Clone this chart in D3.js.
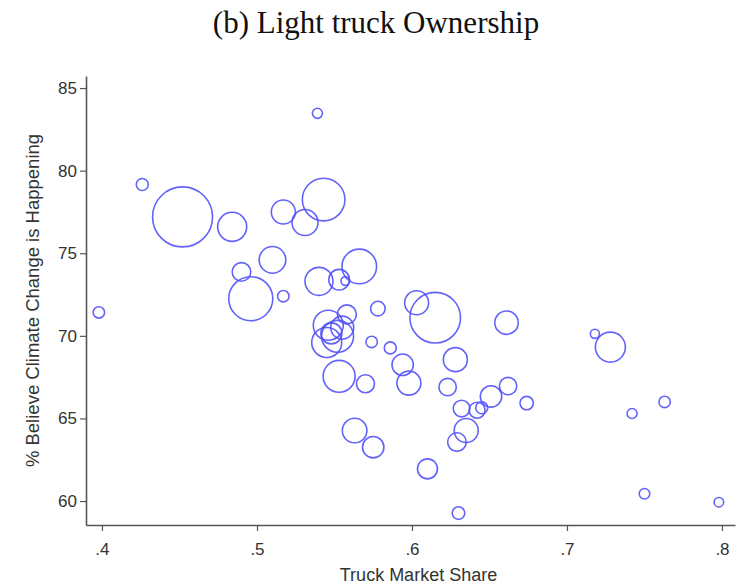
<!DOCTYPE html>
<html>
<head>
<meta charset="utf-8">
<script src="https://cdn.jsdelivr.net/npm/d3@7"></script>
<style>
  html, body { margin: 0; padding: 0; background: #fff; }
  svg { display: block; }
</style>
</head>
<body>
<svg id="chart" width="741" height="587"></svg>
<script>
// Truck market share (x), % believing climate change is happening (y),
// and population weight per state (bubble area).
const truckShare = [
  0.539, 0.426, 0.452, 0.484, 0.517, 0.543, 0.531, 0.510, 0.490, 0.496,
  0.517, 0.398, 0.540, 0.553, 0.557, 0.566, 0.578, 0.603, 0.615, 0.661,
  0.718, 0.728, 0.546, 0.558, 0.555, 0.552, 0.545, 0.548, 0.574, 0.586,
  0.594, 0.598, 0.553, 0.570, 0.628, 0.623, 0.632, 0.642, 0.645, 0.651,
  0.662, 0.674, 0.635, 0.629, 0.563, 0.575, 0.610, 0.630, 0.742, 0.763,
  0.750, 0.798
];
const believePct = [
  83.47, 79.16, 77.20, 76.60, 77.50, 78.25, 76.86, 74.60, 73.87, 72.25,
  72.40, 71.42, 73.30, 73.40, 73.32, 74.20, 71.65, 72.00, 71.10, 70.80,
  70.12, 69.32, 70.64, 71.30, 70.50, 69.97, 69.60, 70.15, 69.63, 69.27,
  68.25, 67.14, 67.55, 67.10, 68.56, 66.90, 65.60, 65.50, 65.65, 66.33,
  66.96, 65.93, 64.27, 63.57, 64.27, 63.26, 61.95, 59.27, 65.30, 66.00,
  60.44, 59.93
];
const popWeight = [
  2.8, 4.0, 100, 23.4, 16.0, 50.4, 18.8, 19.7, 9.6, 53.8,
  3.6, 3.6, 21.8, 11.8, 2.1, 33.3, 5.9, 16.0, 71.1, 15.2,
  2.3, 25.0, 25.0, 10.0, 14.7, 28.4, 25.0, 12.3, 3.6, 4.0,
  12.7, 16.0, 28.4, 9.0, 16.0, 8.4, 7.7, 7.1, 4.0, 12.7,
  8.4, 5.0, 16.0, 9.6, 16.8, 12.7, 11.1, 4.4, 2.8, 3.6,
  3.1, 2.5
];

const xTicks = [0.4, 0.5, 0.6, 0.7, 0.8];
const yTicks = [60, 65, 70, 75, 80, 85];

const titleText = "(b) Light truck Ownership";
const xLabel = "Truck Market Share";
const yLabel = "% Believe Climate Change is Happening";

const data = truckShare.map((x, i) => ({ x, y: believePct[i], w: popWeight[i] }));

const svg = d3.select("#chart");
const plot = { left: 86, right: 735, top: 76, bottom: 525 };

const x = d3.scaleLinear().domain([0.3897, 0.8084]).range([plot.left, plot.right]);
const y = d3.scaleLinear().domain([58.55, 85.73]).range([plot.bottom, plot.top]);
const r = d3.scaleSqrt().domain([0, 100]).range([0, 30]);

const axisColor = "#555";
const labelColor = "#333";
const sansFont = "'Liberation Sans', Arial, sans-serif";

// Title
svg.append("text")
  .attr("x", 376).attr("y", 33)
  .attr("text-anchor", "middle")
  .attr("font-family", "'Liberation Serif', 'Times New Roman', serif")
  .attr("font-size", 31)
  .attr("fill", "#111")
  .text(titleText);

// Bubbles
svg.append("g")
  .selectAll("circle")
  .data(data)
  .join("circle")
  .attr("cx", d => x(d.x))
  .attr("cy", d => y(d.y))
  .attr("r", d => r(d.w))
  .attr("fill", "none")
  .attr("stroke", "#5252fa")
  .attr("stroke-opacity", 0.9)
  .attr("stroke-width", 1.6);

// Axes
const xAxis = svg.append("g")
  .attr("transform", `translate(0,${plot.bottom})`)
  .call(d3.axisBottom(x).tickValues(xTicks).tickSize(6).tickSizeOuter(0)
    .tickFormat(d => d3.format(".1f")(d).replace(/^0/, "")));
const yAxis = svg.append("g")
  .attr("transform", `translate(${plot.left},0)`)
  .call(d3.axisLeft(y).tickValues(yTicks).tickSize(6).tickSizeOuter(0));

[xAxis, yAxis].forEach(g => {
  g.select(".domain").attr("stroke", axisColor).attr("stroke-width", 1.6);
  g.selectAll(".tick line").attr("stroke", axisColor).attr("stroke-width", 1.2);
  g.selectAll(".tick text")
    .attr("font-family", sansFont)
    .attr("font-size", 17)
    .attr("fill", labelColor);
});
xAxis.selectAll(".tick text").attr("dy", "1.25em");
yAxis.selectAll(".tick text").attr("x", -9);

// Axis titles
svg.append("text")
  .attr("x", (plot.left + plot.right) / 2 + 8).attr("y", 581)
  .attr("text-anchor", "middle")
  .attr("font-family", sansFont)
  .attr("font-size", 18)
  .attr("fill", labelColor)
  .text(xLabel);

svg.append("text")
  .attr("transform", `translate(39,${(plot.top + plot.bottom) / 2}) rotate(-90)`)
  .attr("text-anchor", "middle")
  .attr("font-family", sansFont)
  .attr("font-size", 18.5)
  .attr("fill", labelColor)
  .text(yLabel);
</script>
</body>
</html>
